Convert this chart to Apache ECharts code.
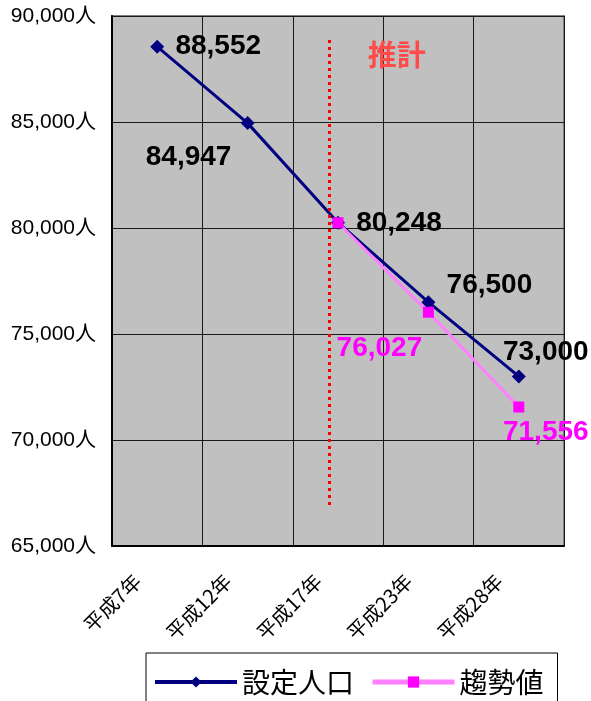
<!DOCTYPE html>
<html>
<head>
<meta charset="utf-8">
<style>
  html, body { margin: 0; padding: 0; background: #fff; }
  #chart { width: 591px; height: 701px; }
</style>
<script src="https://cdn.jsdelivr.net/npm/echarts@6/dist/echarts.min.js"></script>
</head>
<body>
<div id="chart"></div>
<script>
// Population figures by census year
const categories = ['平成7年', '平成12年', '平成17年', '平成23年', '平成28年'];
const plannedPopulation = [88552, 84947, 80248, 76500, 73000];
const trendValues = [null, null, 80248, 76027, 71556];
const seriesNames = ['設定人口', '趨勢値'];
const yMin = 65000;
const yMax = 90000;
const yStep = 5000;

// Boundary between actual and estimated years (x in category units 0..5)
const forecastLineX = 2.4;
const forecastLineY = [88870, 66840];
const forecastText = '推計';
const forecastTextPos = [3.15, 88160];

// Label placement relative to each point (centre offsets, px)
const plannedLabelOffsets = [[61, 0], [-59, 34], [61, 1], [61, -17], [27, -24]];
const trendLabelOffsets = [null, null, null, [-49, 36], [27, 25]];

const fmt = v => Number(v).toLocaleString('en-US');
const latin = '"Liberation Sans", Arial, "Noto Sans CJK JP", sans-serif';
const cjk = '"Noto Sans CJK JP", "Liberation Sans", sans-serif';

const valueLabel = {
  show: true,
  position: 'inside',
  fontSize: 28,
  fontWeight: 'bold',
  fontFamily: latin,
  formatter: p => fmt(p.value)
};

const chart = echarts.init(document.getElementById('chart'), null, { renderer: 'canvas' });

chart.setOption({
  animation: false,
  backgroundColor: '#ffffff',
  grid: {
    left: 112, top: 16, right: 27, bottom: 155,
    show: true,
    backgroundColor: '#C0C0C0',
    borderColor: '#808080',
    borderWidth: 2
  },
  legend: {
    data: [
      { name: seriesNames[0], lineStyle: { width: 4 } },
      { name: seriesNames[1], lineStyle: { width: 5 } }
    ],
    left: 146,
    top: 653,
    orient: 'horizontal',
    padding: [15, 14, 15, 7],
    itemGap: 16,
    itemWidth: 82,
    itemHeight: 14,
    borderColor: '#000',
    borderWidth: 1,
    backgroundColor: '#fff',
    textStyle: { fontSize: 28, fontFamily: cjk, color: '#000' }
  },
  xAxis: [
    {
      type: 'category',
      data: categories,
      boundaryGap: true,
      axisLine: { show: true, lineStyle: { color: '#000', width: 2 } },
      axisTick: { show: false },
      splitLine: { show: true, lineStyle: { color: '#1a1a1a', width: 1 } },
      axisLabel: {
        rotate: 45,
        margin: 12,
        padding: [0, 28, 0, 0],
        fontSize: 20,
        fontFamily: cjk,
        color: '#000',
        interval: 0
      }
    },
    {
      type: 'value',
      min: 0,
      max: 5,
      show: false
    }
  ],
  yAxis: {
    type: 'value',
    min: yMin,
    max: yMax,
    interval: yStep,
    axisLine: { show: true, lineStyle: { color: '#000', width: 2 } },
    axisTick: { show: false },
    splitLine: { show: true, lineStyle: { color: '#1a1a1a', width: 1 } },
    axisLabel: {
      margin: 16,
      fontSize: 21,
      fontFamily: latin,
      color: '#000',
      formatter: v => fmt(v) + '人'
    }
  },
  series: [
    {
      name: seriesNames[0],
      type: 'line',
      z: 3,
      data: plannedPopulation.map((v, i) => ({ value: v, label: { offset: plannedLabelOffsets[i] } })),
      symbol: 'diamond',
      symbolSize: 14,
      lineStyle: { color: '#000080', width: 3 },
      itemStyle: { color: '#000080' },
      label: Object.assign({}, valueLabel, { color: '#000' })
    },
    {
      name: seriesNames[1],
      type: 'line',
      z: 4,
      data: trendValues.map((v, i) => ({
        value: v,
        label: trendLabelOffsets[i] ? { show: true, offset: trendLabelOffsets[i] } : { show: false }
      })),
      symbol: 'rect',
      symbolSize: 11,
      lineStyle: { color: '#FF80FF', width: 3 },
      itemStyle: { color: '#FF00FF' },
      label: Object.assign({}, valueLabel, { color: '#FF00FF' })
    },
    {
      type: 'line',
      xAxisIndex: 1,
      yAxisIndex: 0,
      data: [],
      silent: true,
      z: 5,
      markLine: {
        silent: true,
        symbol: ['none', 'none'],
        label: { show: false },
        lineStyle: { color: '#FF0000', width: 3, type: [3, 4] },
        data: [[
          { coord: [forecastLineX, forecastLineY[0]] },
          { coord: [forecastLineX, forecastLineY[1]] }
        ]]
      },
      markPoint: {
        silent: true,
        symbol: 'circle',
        symbolSize: 1,
        itemStyle: { color: 'rgba(0,0,0,0)' },
        label: {
          show: true,
          position: 'inside',
          formatter: forecastText,
          fontSize: 29,
          fontWeight: 'bold',
          fontFamily: cjk,
          color: '#FF4A4A'
        },
        data: [{ coord: forecastTextPos }]
      }
    }
  ]
});
</script>
</body>
</html>
